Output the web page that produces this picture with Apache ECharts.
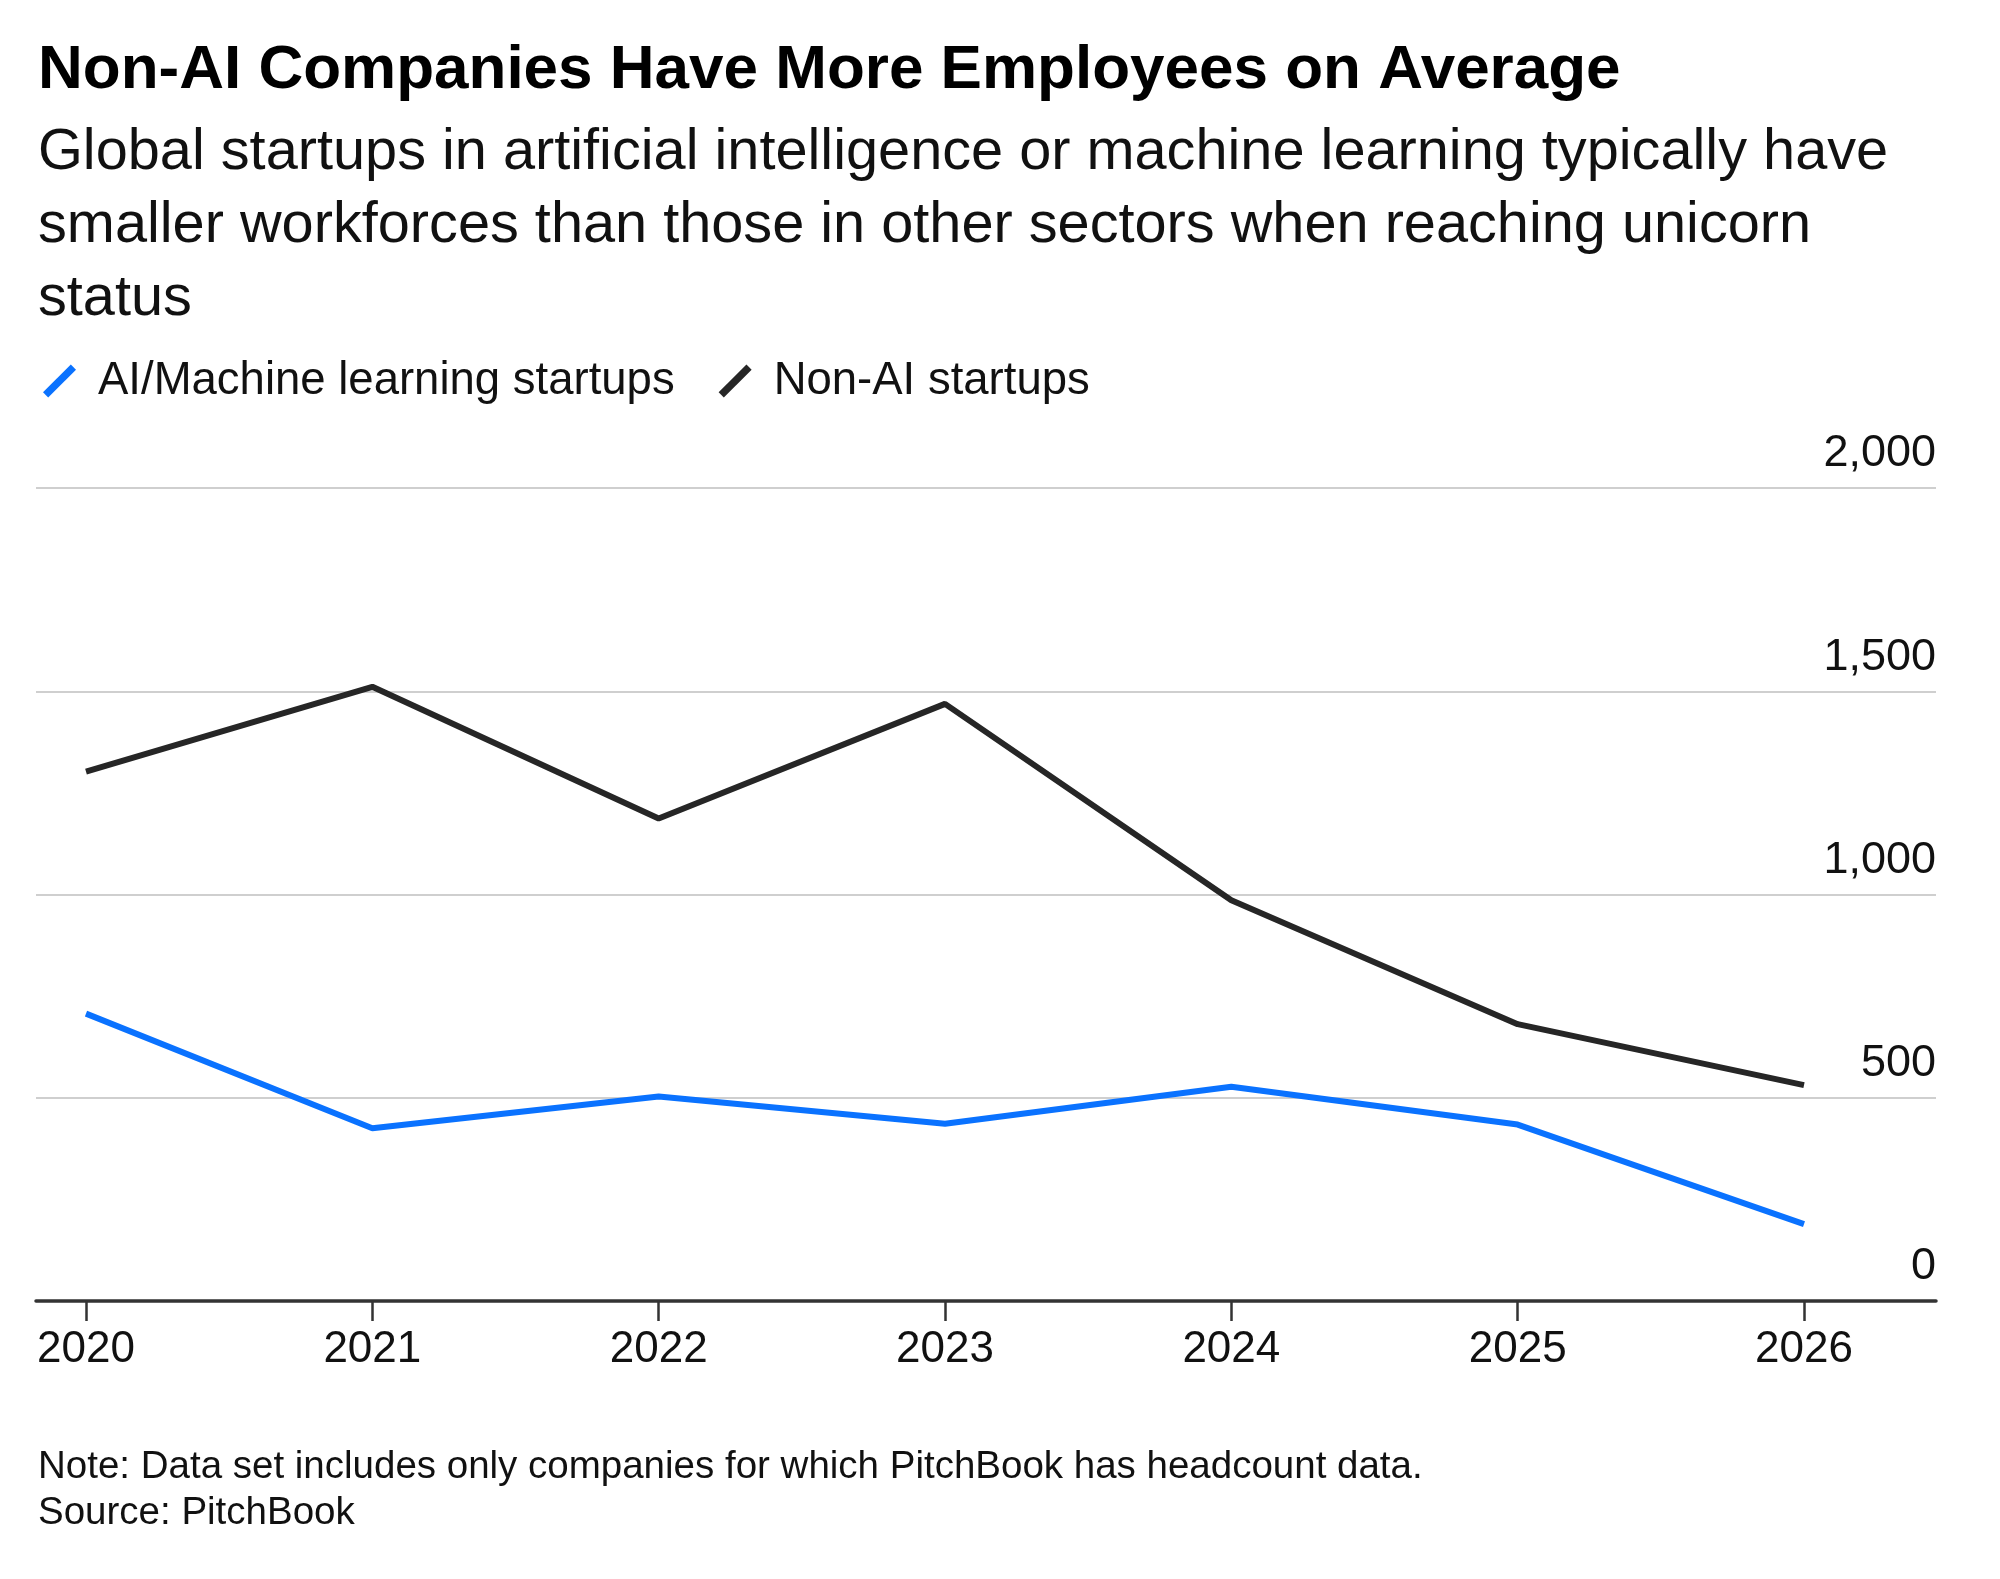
<!DOCTYPE html>
<html>
<head>
<meta charset="utf-8">
<script src="https://cdn.jsdelivr.net/npm/echarts@6/dist/echarts.min.js"></script>
<style>
html,body{margin:0;padding:0;background:#fff;}
#chart{width:2000px;height:1579px;}
</style>
</head>
<body>
<div id="chart"></div>
<script>
const years = [2020, 2021, 2022, 2023, 2024, 2025, 2026];
const aiValues = [707, 425, 503, 436, 527, 434, 189];
const nonAiValues = [1302, 1511, 1187, 1469, 986, 681, 531];
const yTicks = [0, 500, 1000, 1500, 2000];
const seriesNames = ['AI/Machine learning startups', 'Non-AI startups'];

const FONT = "'Liberation Sans', Arial, Helvetica, sans-serif";
const slashIcon = 'path://M0,29.5 L29.5,0 L35,5.5 L5.5,35 Z';

const chart = echarts.init(document.getElementById('chart'), null, {renderer: 'canvas'});
chart.setOption({
  backgroundColor: '#ffffff',
  animation: false,
  title: [
    {
      text: 'Non-AI Companies Have More Employees on Average',
      left: 33, top: 31,
      textStyle: {fontFamily: FONT, fontSize: 62, fontWeight: 'bold', color: '#000', lineHeight: 70}
    },
    {
      text: 'Global startups in artificial intelligence or machine learning typically have\nsmaller workforces than those in other sectors when reaching unicorn\nstatus',
      left: 33, top: 112,
      textStyle: {fontFamily: FONT, fontSize: 57.7, fontWeight: 'normal', color: '#111', lineHeight: 73}
    },
    {
      text: 'Note: Data set includes only companies for which PitchBook has headcount data.\nSource: PitchBook',
      left: 33, top: 1439,
      textStyle: {fontFamily: FONT, fontSize: 38.5, fontWeight: 'normal', color: '#111', lineHeight: 46}
    }
  ],
  legend: {
    left: 38, top: 351,
    itemWidth: 33, itemHeight: 34,
    itemGap: 44,
    icon: slashIcon,
    textStyle: {fontFamily: FONT, fontSize: 45.5, color: '#111', lineHeight: 50, padding: [0, 0, 0, 17]},
    data: seriesNames
  },
  grid: {left: 36, right: 64, top: 488, bottom: 278, containLabel: false},
  xAxis: {
    type: 'value',
    min: 2019.8254,
    max: 2026.461,
    z: 5,
    splitLine: {show: false},
    axisLine: {show: true, lineStyle: {color: '#333', width: 3.5}},
    axisTick: {show: true, length: 20, lineStyle: {color: '#333', width: 2.5}, customValues: years},
    axisLabel: {
      customValues: years,
      fontFamily: FONT, fontSize: 44, color: '#111', margin: 27, lineHeight: 44,
      formatter: v => String(Math.round(v))
    }
  },
  yAxis: {
    type: 'value',
    position: 'right',
    min: 0, max: 2000, interval: 500,
    axisLine: {show: false},
    axisTick: {show: false},
    splitLine: {show: true, lineStyle: {color: '#cfcfcf', width: 2}},
    axisLabel: {
      inside: true, margin: 0,
      fontFamily: FONT, fontSize: 45, color: '#111',
      verticalAlign: 'bottom', lineHeight: 68, align: 'right',
      formatter: v => v.toLocaleString('en-US')
    }
  },
  series: [
    {
      name: seriesNames[0], type: 'line', symbol: 'none',
      lineStyle: {color: '#0a72ff', width: 6}, itemStyle: {color: '#0a72ff'},
      data: years.map((y, i) => [y, aiValues[i]])
    },
    {
      name: seriesNames[1], type: 'line', symbol: 'none',
      lineStyle: {color: '#262626', width: 6}, itemStyle: {color: '#262626'},
      data: years.map((y, i) => [y, nonAiValues[i]])
    }
  ]
});
</script>
</body>
</html>
